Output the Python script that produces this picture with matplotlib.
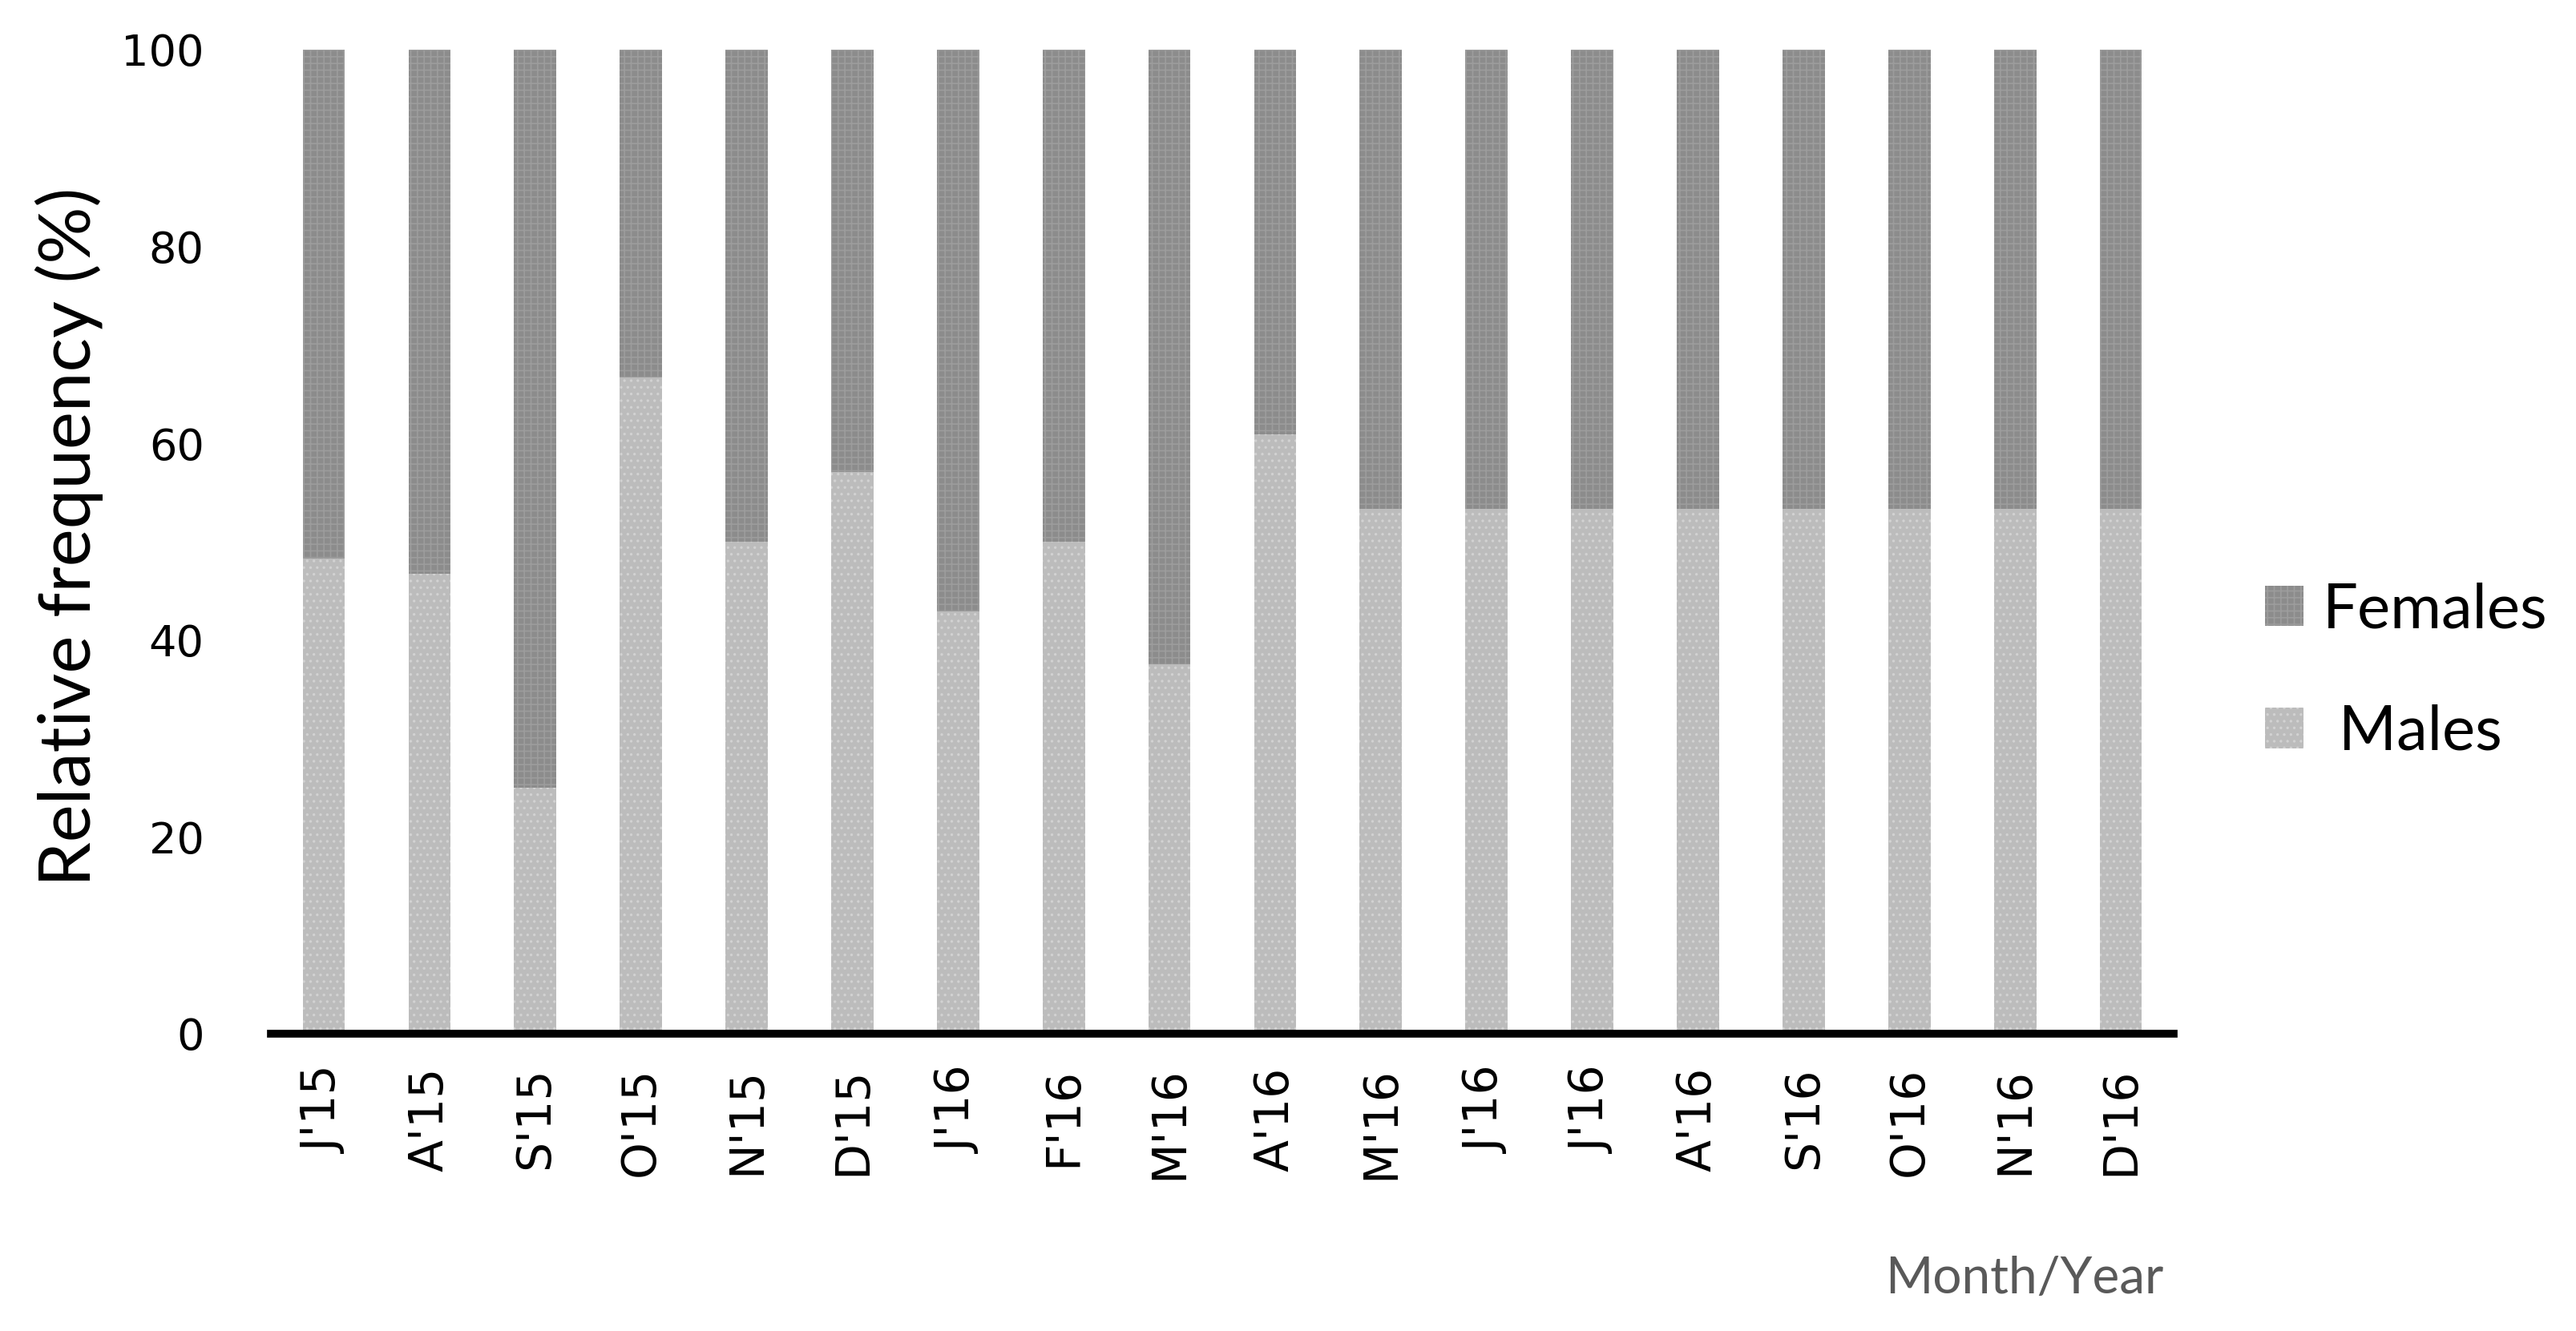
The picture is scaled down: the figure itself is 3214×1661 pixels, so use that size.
import numpy as np
import matplotlib
matplotlib.use("Agg")
import matplotlib.pyplot as plt
from matplotlib.patches import Patch

# ── Data ──────────────────────────────────────────────────────────────────────
months = ["J'15", "A'15", "S'15", "O'15", "N'15", "D'15", "J'16", "F'16", "M'16",
          "A'16", "M'16", "J'16", "J'16", "A'16", "S'16", "O'16", "N'16", "D'16"]
males = [48.3, 46.7, 25.0, 66.7, 50.0, 57.1, 42.9, 50.0, 37.5,
         60.9, 53.3, 53.3, 53.3, 53.3, 53.3, 53.3, 53.3, 53.3]
females = [100 - m for m in males]
yticks = [0, 20, 40, 60, 80, 100]

# ── Style ─────────────────────────────────────────────────────────────────────
MALE_COLOR = "#bcbcbc"
MALE_DOTS = "#d2d2d2"
FEMALE_COLOR = "#8c8c8c"
FEMALE_DOTS = "#9c9c9c"
LABEL_FONT = ["Lato", "DejaVu Sans"]
plt.rcParams["hatch.linewidth"] = 1.2

fig = plt.figure(figsize=(32.14, 16.61), dpi=100)
ax = fig.add_axes([0.1052, 0.2234, 0.7386, 0.7393])

x = np.arange(len(months))
ax.bar(x, males, width=0.4, color=MALE_COLOR, edgecolor=MALE_DOTS,
       hatch="..", linewidth=0, label="Males")
ax.bar(x, females, width=0.4, bottom=males, color=FEMALE_COLOR,
       edgecolor=FEMALE_DOTS, hatch="++", linewidth=0, label="Females")

ax.set_xlim(-0.5, len(months) - 0.5)
ax.set_ylim(0, 100)
ax.set_yticks(yticks)
ax.set_xticks(x)
ax.set_xticklabels(months, rotation=90)
ax.tick_params(axis="both", length=0)
ax.tick_params(axis="y", pad=60, labelsize=39)
ax.tick_params(axis="x", pad=30, labelsize=42)

for s in ["top", "right", "left"]:
    ax.spines[s].set_visible(False)
ax.spines["bottom"].set_linewidth(7)
ax.spines["bottom"].set_color("black")

ax.set_ylabel("Relative frequency (%)", fontsize=64, family=LABEL_FONT)
ax.yaxis.set_label_coords(-0.088, 0.505)

fig.text(0.786, 0.039, "Month/Year", fontsize=46, color="#595959",
         family=LABEL_FONT, ha="center", va="center")

# legend: Females listed above Males, as in the source figure
handles = [Patch(facecolor=FEMALE_COLOR, edgecolor=FEMALE_DOTS, hatch="++", linewidth=0),
           Patch(facecolor=MALE_COLOR, edgecolor=MALE_DOTS, hatch="..", linewidth=0)]
fig.legend(handles, ["Females", " Males"], loc="center left",
           bbox_to_anchor=(0.8575, 0.4955), frameon=False,
           prop={"family": LABEL_FONT, "size": 56},
           handlelength=0.62, handleheight=0.62, handletextpad=0.3, labelspacing=1.05)

fig.savefig("out.png", dpi=100)
